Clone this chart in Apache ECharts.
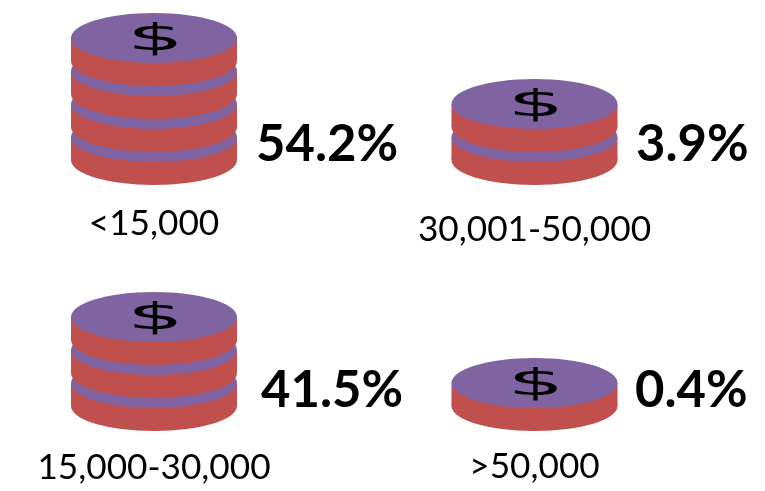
<!DOCTYPE html>
<html>
<head>
<meta charset="utf-8">
<style>html,body{margin:0;padding:0;background:#fff}#c{width:765px;height:491px}</style>
<script src="https://cdn.jsdelivr.net/npm/echarts@6/dist/echarts.min.js"></script>
</head>
<body>
<div id="c"></div>
<script>
const categories = ['<15,000', '30,001-50,000', '15,000-30,000', '>50,000'];
const shares = [54.2, 3.9, 41.5, 0.4];
const coinCounts = [4, 2, 3, 1];

const panelLayout = [
  {left: 71,    top: 53,  labelMargin: 21, pctX: 256},
  {left: 451.5, top: 53,  labelMargin: 27, pctX: 636},
  {left: 71,    top: 299, labelMargin: 19, pctX: 261},
  {left: 451.5, top: 299, labelMargin: 18, pctX: 635}
];
const RED = '#C0504D', PURPLE = '#8064A2', FONT = 'Lato, Carlito, sans-serif';

function renderStack(params, api) {
  const n = api.value(1), pct = api.value(2);
  const base = api.coord([api.value(0), 0]);
  const band = api.size([1, 0])[0];
  const step = api.size([0, 1])[1];
  const rx = band / 2, ry = rx * 0.301, thick = step * 0.7;
  const children = [];
  for (let k = 0; k < n; k++) {
    const yc = base[1] - ry - thick - step * k;
    children.push(
      {type: 'ellipse', shape: {cx: base[0], cy: yc + thick, rx, ry}, style: {fill: RED}},
      {type: 'rect', shape: {x: base[0] - rx, y: yc, width: band, height: thick}, style: {fill: RED}},
      {type: 'ellipse', shape: {cx: base[0], cy: yc, rx, ry}, style: {fill: PURPLE}}
    );
    if (k === n - 1) {
      children.push({
        type: 'text', x: base[0] + 1.5, y: yc + 2, scaleX: 2.35,
        style: {text: '$', font: '38px "DejaVu Sans"', fill: '#000', align: 'center', verticalAlign: 'middle'}
      });
    }
  }
  const layout = panelLayout[params.seriesIndex];
  children.push({
    type: 'text', x: layout.pctX, y: base[1] - 40,
    style: {text: pct.toFixed(1) + '%', font: 'bold 50.8px ' + FONT, fill: '#000', align: 'left', verticalAlign: 'middle'}
  });
  return {type: 'group', children};
}

const option = {
  animation: false,
  backgroundColor: '#fff',
  grid: panelLayout.map(p => ({left: p.left, top: p.top, width: 166, height: 132})),
  xAxis: categories.map((c, i) => ({
    type: 'category', gridIndex: i, data: [c],
    axisLine: {show: false}, axisTick: {show: false}, splitLine: {show: false},
    axisLabel: {color: '#000', fontFamily: FONT, fontSize: 35.2, margin: panelLayout[i].labelMargin, interval: 0}
  })),
  yAxis: categories.map((c, i) => ({
    type: 'value', gridIndex: i, min: 0, max: 4, show: false
  })),
  series: categories.map((c, i) => ({
    type: 'custom', xAxisIndex: i, yAxisIndex: i, clip: false,
    encode: {x: 0, y: 1},
    data: [[0, coinCounts[i], shares[i]]],
    renderItem: renderStack
  }))
};
echarts.init(document.getElementById('c'), null, {renderer: 'canvas'}).setOption(option);
</script>
</body>
</html>
